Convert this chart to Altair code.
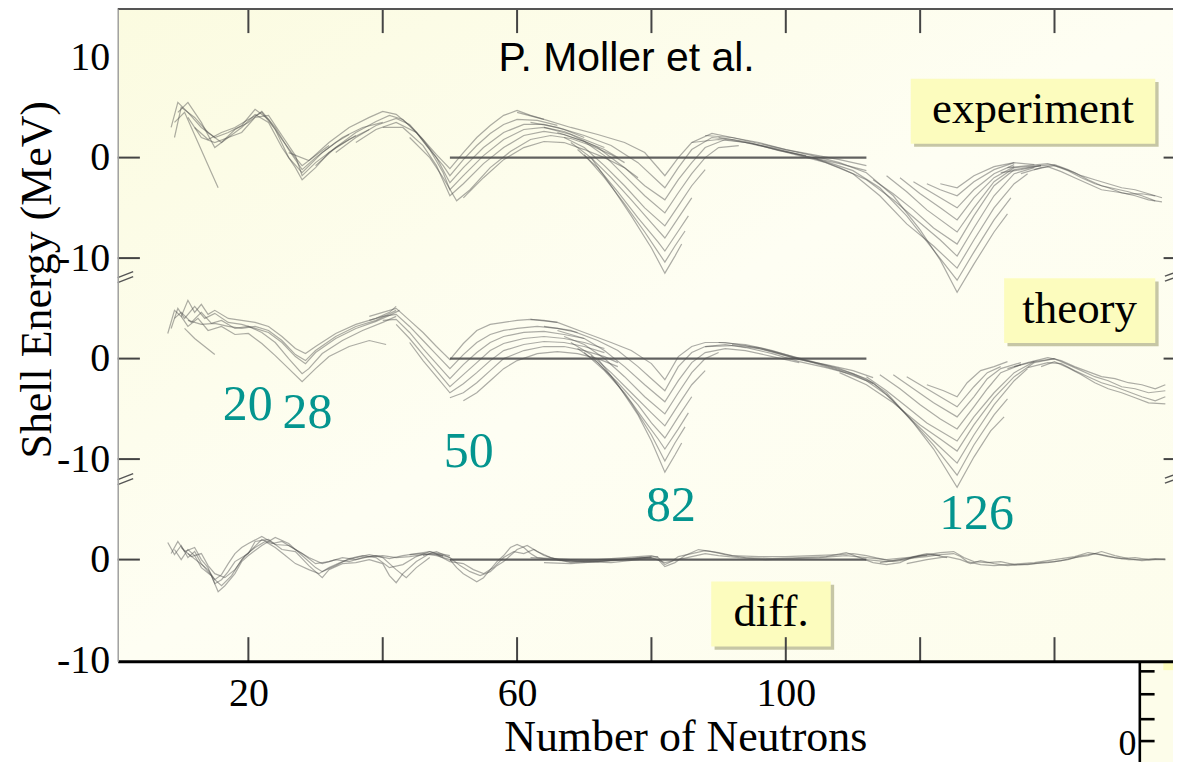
import altair as alt
import pandas as pd

# ---------------- axis / layout values ----------------
XMIN, XMAX = 0.55, 157.64
YMIN, YMAX = -10.12, 54.79
X_TICKS = [20, 60, 100]
X_MINOR = [20, 40, 60, 80, 100, 120, 140]
Y_TICK_VALUES = [-10, 0, 10, 20, 30, 40, 50]
Y_TICK_LABELS = ["-10", "0", "-10", "0", "-10", "0", "10"]
LEFT_TICKS = [40, 30, 20, 10, 0]
RIGHT_TICKS = [40, 30, 20, 10]
BREAKS = [28.1, 8.0]
OFFSETS = {"exp": 40, "thy": 20, "diff": 0}

# ---------------- experiment (shell energy, MeV) ----------------
EXP_CURVES = [
    [(8.5,3.0),(9.5,5.5),(11,4.5),(13,3.0),(15,2.0),(17,2.5),(19,3.2),(21,4.8),(23,3.8),(25,1.8),(27,0.0),(28,-0.8),(30,0.2),(32,1.2)],
    [(9,2.0),(10,5.0),(12,4.0),(14,2.5),(16,1.5),(18,2.8),(20,3.5),(22,4.6),(24,3.0),(26,0.8),(28,-1.2),(30,0.0),(33,1.5),(35,2.3)],
    [(9.5,4.5),(11,5.5),(13,3.5),(15,1.0),(17,2.0),(19,2.5),(21,4.0),(23,4.2),(25,2.2),(27,0.2),(28,-1.8),(30,-0.5),(33,1.0),(36,2.2)],
    [(9,3.5),(10.5,4.5),(12.5,1.5),(14.5,-1.5),(15.5,-3.0)],
    [(11,4.0),(13,2.0),(15,1.5),(17,2.0),(19,3.0),(21,4.3),(23,3.5),(25,1.0),(27,-1.0),(28,-2.2),(30,-1.0),(32,0.5),(35,1.8),(38,2.8)],
    [(12,3.0),(14,1.8),(16,2.5),(18,3.0),(20,3.8),(22,4.5),(24,2.8),(26,0.0),(28,-1.5),(31,0.5),(34,2.0),(37,3.0),(40,3.5)],
    [(26,0.5),(29,-0.3),(32,1.5),(35,3.0),(38,4.0),(40,4.6),(42,4.3),(44,3.2),(46,1.8),(48,0.3),(50,-1.1),(52,0.5),(54,2.0),(56,3.2),(58,4.2),(60,4.7),(62,4.2),(64,3.8)],
    [(30,-0.8),(33,1.0),(36,2.5),(39,3.6),(41,4.2),(43,3.8),(45,2.5),(47,0.8),(49,-0.8),(50,-1.8),(52,-0.2),(54,1.2),(56,2.4),(58,3.3),(60,3.8),(63,3.7),(66,3.2)],
    [(33,0.5),(36,2.0),(39,3.2),(42,3.9),(44,3.3),(46,1.8),(48,0.0),(50,-2.5),(52,-1.0),(55,1.0),(58,2.5),(61,3.3),(64,3.3),(67,2.8),(70,2.0)],
    [(36,1.5),(39,2.8),(42,3.5),(45,2.5),(47,0.8),(49,-1.5),(50,-3.2),(52,-1.8),(55,0.2),(58,1.8),(61,2.8),(64,3.0),(67,2.6),(70,1.8),(73,1.0)],
    [(40,3.0),(43,3.0),(46,1.2),(48,-0.8),(50,-3.8),(52,-2.6),(55,-0.6),(58,1.0),(61,2.2),(64,2.6),(67,2.3),(70,1.6),(73,0.8),(75,0.0)],
    [(44,2.0),(47,0.0),(49,-2.0),(51,-4.3),(53,-3.2),(56,-1.0),(59,0.6),(62,1.8),(65,2.2),(68,1.9),(71,1.2),(74,0.3),(76,-0.5)],
    [(52,-4.0),(55,-2.0),(58,-0.2),(61,1.0),(64,1.6),(67,1.5),(70,0.8),(73,0.0),(76,-1.0),(78,-2.0)],
    [(60,4.5),(64,3.8),(68,3.0),(72,2.3),(76,1.5),(79,0.5),(82,-1.8),(84,0.0),(86,1.5),(89,2.4),(92,2.0),(96,1.5),(100,0.8),(104,0.3),(108,-0.2),(112,-0.8)],
    [(62,3.5),(66,3.0),(70,2.2),(74,1.2),(78,-0.5),(82,-3.0),(84,-1.0),(86,0.8),(89,2.0),(92,1.8),(96,1.2),(100,0.6),(104,0.0),(108,-0.6),(112,-1.3)],
    [(64,3.0),(68,2.3),(72,1.0),(76,-1.0),(79,-2.8),(82,-4.2),(84,-2.2),(86,-0.5),(88,1.0),(91,1.8),(95,1.4),(99,0.7),(103,0.2)],
    [(66,2.5),(70,1.6),(73,0.2),(76,-1.8),(79,-3.8),(82,-5.5),(84,-3.5),(86,-1.6),(88,0.0),(90,1.0),(93,1.2)],
    [(67,2.0),(70,1.0),(73,-0.8),(76,-2.8),(79,-5.0),(82,-6.8),(84,-4.8),(86,-2.8),(88,-1.2)],
    [(68,1.5),(71,0.0),(74,-2.0),(77,-4.2),(80,-6.5),(82,-8.0),(84,-6.0),(86,-4.0)],
    [(69,0.8),(72,-1.0),(75,-3.4),(78,-6.0),(81,-8.4),(82,-9.3),(84,-7.3),(85.5,-5.8)],
    [(70,0.3),(73,-2.0),(76,-4.6),(79,-7.4),(81,-9.4),(82,-10.4),(83.5,-8.8),(85,-7.3)],
    [(71,0.0),(74,-2.8),(77,-5.8),(80,-9.0),(82,-11.5),(83.5,-9.8),(84.5,-8.6)],
    [(88,2.2),(92,2.0),(96,1.4),(100,0.8),(104,0.2),(108,-0.5),(112,-1.5),(116,-3.8),(120,-7.2),(123,-10.2),(125.5,-13.4),(128,-10.6),(131,-7.4),(133,-5.6)],
    [(86,1.5),(90,1.8),(94,1.5),(98,1.0),(102,0.3),(106,-0.4),(110,-1.3),(114,-3.0),(118,-5.8),(122,-9.2),(125.5,-12.2),(128,-9.4),(131,-6.2),(133.5,-4.0)],
    [(90,2.0),(94,1.6),(98,0.9),(102,0.2),(106,-0.5),(110,-1.6),(114,-3.8),(118,-6.6),(122,-8.8),(125.5,-11.0),(128,-8.2),(131,-5.0),(134,-2.6),(136,-1.6)],
    [(104,0.0),(108,-1.0),(112,-2.2),(116,-4.2),(120,-6.5),(123,-8.2),(125.5,-9.8),(128,-7.0),(131,-3.8),(134,-1.6),(137,-1.0)],
    [(113,-2.2),(116,-3.6),(119,-5.2),(122,-7.0),(125.5,-8.6),(128,-5.8),(131,-2.8),(134,-1.2),(138,-0.8)],
    [(115,-1.8),(118,-3.4),(121,-5.2),(125.5,-7.4),(128,-5.0),(131,-2.4),(134,-1.0),(138,-0.8)],
    [(117,-2.0),(120,-3.6),(123,-5.0),(125.5,-6.2),(128,-4.0),(131,-2.0),(134,-0.9)],
    [(119,-2.4),(122,-3.6),(125.5,-5.0),(128,-3.2),(131,-1.6),(134,-0.7)],
    [(121,-2.6),(123,-3.2),(125.5,-3.8),(128,-2.4),(131,-1.2),(134,-0.5)],
    [(123,-2.6),(125.5,-3.0),(128,-1.8),(131,-0.9),(134,-0.5),(137,-0.7)],
    [(132,-1.5),(135,-1.2),(138,-0.8),(140,-0.7),(142,-1.2),(144,-1.8),(146,-2.2),(148,-2.6),(150,-3.0),(152,-3.2),(154,-3.6),(156,-4.0)],
    [(133,-1.0),(136,-0.8),(139,-0.6),(141,-1.0),(143,-1.5),(145,-2.2),(147,-2.8),(149,-3.1),(151,-3.4),(153,-3.8),(155,-4.3)],
    [(135,-1.6),(138,-1.0),(140,-0.8),(142,-1.3),(144,-2.0),(146,-2.6),(148,-3.0),(150,-3.5),(152,-3.8),(154,-4.2),(156,-4.4)],
    [(137,-1.2),(139,-0.9),(141,-1.4),(143,-2.0),(145,-2.6),(147,-3.2),(149,-3.4),(151,-3.6),(153,-3.6),(155,-3.8)],
]

# ---------------- theory ----------------
THY_CURVES = [
    [(8,2.5),(9,4.8),(10,4.2),(11,5.8),(12,4.6),(13,5.4),(14,4.4),(15,4.8),(17,4.0),(19,3.8),(21,3.6),(23,3.2),(25,2.2),(27,1.0),(28.5,0.5),(30,1.2),(33,2.5),(36,3.4),(39,4.0),(41,4.6),(42,5.2)],
    [(8.5,3.0),(9.5,5.0),(10.5,4.0),(12,5.2),(13.5,4.0),(15,4.5),(17,3.6),(19,3.4),(21,3.0),(23,2.6),(25,1.6),(27,0.2),(28.5,-0.5),(30,0.6),(33,2.0),(36,3.0),(39,3.7),(41,4.3),(42.5,4.8)],
    [(9,4.0),(10,4.6),(11.5,3.6),(13,4.6),(14.5,3.5),(16,3.8),(18,3.0),(20,3.2),(22,2.6),(24,1.6),(26,0.0),(28,-1.5),(29,-1.0),(31,0.5),(34,1.8),(37,2.8),(40,3.6),(42,4.2)],
    [(10,4.2),(11,3.2),(12.5,4.0),(14,2.8),(16,3.2),(18,2.4),(20,2.5),(22,1.5),(24,0.3),(26,-1.0),(28,-2.3),(30,-1.0),(32,0.2),(35,1.2),(38,1.8),(40.5,1.4)],
    [(10.5,3.0),(12,2.0),(13.5,1.2),(15,0.4)],
    [(11,3.8),(13,3.4),(15,3.5),(17,3.2),(19,3.0),(21,3.2),(23,2.8),(25,1.8),(27,0.4),(28.5,-0.2),(30,0.8),(33,2.2),(36,3.2),(39,3.8),(42,4.8)],
    [(38,4.2),(40,4.6),(42,5.0),(44,3.8),(46,2.6),(48,1.2),(50,-0.1),(52,1.5),(54,2.8),(56,3.4),(58,3.6),(60,3.8),(62,3.9),(64,3.8),(66,3.6)],
    [(38,3.8),(40,4.2),(42,4.4),(44,3.2),(46,1.8),(48,0.4),(50,-1.0),(52,0.4),(54,1.6),(56,2.4),(58,2.8),(60,3.0),(63,3.2),(66,3.0),(69,2.6)],
    [(40,3.8),(42,3.9),(44,2.6),(46,1.0),(48,-0.5),(50,-2.0),(52,-0.6),(54,0.6),(56,1.6),(58,2.2),(61,2.6),(64,2.7),(67,2.4),(70,2.0)],
    [(42,3.4),(44,2.0),(46,0.4),(48,-1.2),(50,-2.8),(52,-1.6),(54,-0.4),(56,0.8),(58,1.5),(61,2.0),(64,2.2),(67,2.0),(70,1.6),(73,1.0)],
    [(44,1.6),(46,-0.2),(48,-1.8),(50,-3.4),(52,-2.5),(54,-1.4),(56,-0.2),(58,0.8),(61,1.4),(64,1.7),(67,1.6),(70,1.2),(73,0.6)],
    [(50,-3.9),(52,-3.4),(54,-2.4),(56,-1.2),(58,0.0),(61,0.8),(64,1.2),(67,1.2),(70,0.8),(73,0.2),(75,-0.4)],
    [(52,-4.2),(54,-3.4),(56,-2.2),(58,-1.0),(60,-0.2),(63,0.5),(66,0.7),(69,0.5),(72,0.0),(75,-0.8)],
    [(62,3.9),(66,3.6),(70,2.6),(74,1.6),(77,0.8),(80,-0.5),(82,-2.1),(84,0.2),(86,1.2),(88,1.6),(91,1.6),(94,1.3),(98,0.7),(102,-0.1),(106,-0.6),(110,-1.2),(113,-1.9)],
    [(64,3.2),(68,2.8),(72,1.8),(75,0.8),(78,-0.8),(80,-2.0),(82,-3.2),(84,-0.8),(86,0.6),(88,1.2),(91,1.4),(94,1.1),(98,0.5),(102,-0.3),(106,-0.9),(110,-1.6),(113,-2.5)],
    [(66,2.8),(70,2.0),(73,0.8),(76,-0.8),(79,-2.6),(82,-4.3),(84,-2.2),(86,-0.4),(88,0.6),(91,1.0),(94,0.8),(98,0.2),(102,-0.4)],
    [(67,2.2),(70,1.4),(73,0.0),(76,-1.8),(79,-3.8),(82,-5.5),(84,-3.4),(86,-1.4),(88,0.0),(90,0.6)],
    [(68,1.6),(71,0.4),(74,-1.4),(77,-3.4),(80,-5.4),(82,-6.7),(84,-4.6),(86,-2.6),(88,-1.2)],
    [(69,1.0),(72,-0.4),(75,-2.4),(78,-4.6),(80,-6.4),(82,-7.9),(84,-5.8),(86,-3.8)],
    [(70,0.6),(73,-1.2),(76,-3.4),(79,-6.2),(81,-8.0),(82,-9.0),(84,-7.0),(85.5,-5.4)],
    [(71,0.3),(74,-1.8),(77,-4.4),(80,-7.6),(82,-10.2),(83.5,-8.4),(85,-6.8)],
    [(72,0.0),(75,-2.6),(78,-5.6),(80,-8.2),(82,-11.3),(83.5,-9.6),(84.5,-8.4)],
    [(90,1.6),(94,1.4),(98,0.8),(102,0.0),(106,-0.7),(110,-1.5),(113,-2.4),(116,-4.2),(119,-6.4),(122,-9.0),(125.5,-12.8),(128,-9.8),(130.5,-7.2),(132.5,-5.8)],
    [(88,1.2),(92,1.3),(96,1.0),(100,0.3),(104,-0.4),(108,-1.2),(112,-2.2),(115,-3.6),(118,-5.6),(122,-8.6),(125.5,-11.6),(128,-8.6),(131,-5.6),(133,-4.0)],
    [(92,1.4),(96,1.1),(100,0.4),(104,-0.3),(108,-1.0),(112,-2.0),(115,-3.4),(118,-5.6),(122,-8.2),(125.5,-10.4),(128,-7.6),(131,-4.6),(134,-2.2),(136,-1.0)],
    [(108,-1.4),(112,-2.6),(116,-4.4),(120,-6.6),(123,-8.0),(125.5,-9.2),(128,-6.6),(131,-3.9),(134,-1.8),(137,-0.4),(140,0.0)],
    [(112,-1.8),(115,-3.2),(118,-4.8),(121,-6.4),(125.5,-8.2),(128,-5.8),(131,-3.4),(134,-1.4),(137,-0.3)],
    [(114,-1.6),(117,-3.0),(120,-4.6),(123,-6.0),(125.5,-7.0),(128,-4.8),(130,-3.0),(132,-1.4),(135,-0.6)],
    [(116,-1.6),(119,-3.0),(122,-4.4),(125.5,-5.8),(128,-3.8),(130,-2.0),(132,-1.0),(135,-0.4)],
    [(118,-1.8),(121,-3.0),(123.5,-4.0),(125.5,-4.8),(128,-2.8),(130,-1.4),(132,-0.8)],
    [(121,-2.6),(123.5,-3.2),(125.5,-3.8),(127,-2.4),(129,-1.2),(131,-0.8),(133,-0.3)],
    [(133,-1.0),(136,-0.4),(139,0.1),(141,-0.2),(143,-0.8),(145,-1.3),(147,-1.8),(149,-2.0),(151,-2.4),(153,-2.6),(155,-3.0),(156.5,-2.6)],
    [(134,-0.8),(137,-0.3),(140,0.0),(142,-0.6),(144,-1.2),(146,-1.8),(148,-2.2),(150,-2.8),(152,-3.0),(154,-3.4),(156.5,-3.2)],
    [(136,-0.9),(139,-0.4),(141,-0.5),(143,-1.2),(145,-1.8),(147,-2.4),(149,-2.8),(151,-3.3),(153,-3.8),(155,-4.2),(156.5,-3.8)],
    [(138,-0.8),(140,-0.3),(142,-0.9),(144,-1.6),(146,-2.4),(148,-3.0),(150,-3.4),(152,-3.9),(154,-4.4),(156.5,-4.5)],
]

# ---------------- difference ----------------
DIFF_CURVES = [
    [(8,1.7),(9,0.5),(10,1.4),(11,0.2),(12,0.8),(13,-0.4),(14,-1.2),(15,-2.0),(16,-1.5),(17,-0.4),(18,0.6),(19,1.2),(20,1.6),(22,2.3),(24,1.5),(26,1.4),(28,0.6),(30,-0.4),(32,-0.2),(34,0.2),(36,0.0),(38,0.3),(40,0.4),(42,0.2),(44,0.3),(46,0.5),(48,0.6),(50,0.2)],
    [(8.5,0.6),(9.5,1.8),(10.5,0.8),(12,1.2),(13,0.0),(14,-0.8),(15,-2.4),(16,-2.0),(17,-1.2),(18,-0.2),(20,0.6),(21,1.8),(23,2.0),(25,1.0),(27,0.8),(29,-0.6),(31,-1.8),(32,-1.0),(34,-0.4),(36,-0.3),(38,0.0),(40,-0.4),(41,-1.6),(42,-2.3),(43,-1.4),(45,-0.2),(47,0.6),(49,0.4)],
    [(9,1.0),(10,0.0),(11,1.0),(12,0.4),(13,-0.8),(14.5,-1.6),(15.5,-3.2),(16.5,-2.6),(18,-1.4),(19,-0.2),(20,0.4),(22,1.4),(24,2.2),(26,1.6),(28,0.4),(30,-0.8),(31,-1.2),(33,-0.6),(35,0.1),(37,0.4),(39,0.2),(41,-0.8),(43,-0.5),(45,0.3),(47,0.8),(50,0.4)],
    [(10,1.2),(11.5,0.3),(13,0.6),(14,-0.6),(15,-1.4),(16.5,-1.8),(18,-1.0),(19.5,0.4),(21,1.2),(22.5,1.8),(24,1.2),(25.5,0.4),(27,-0.4),(29,-1.0),(30.5,-1.4),(32,-0.8),(34,-0.2),(36,0.2),(38,0.5),(40,0.2),(42,-1.0),(43.5,-1.8),(45,-0.8),(47,0.2)],
    [(11,0.6),(12.5,-0.2),(14,-1.0),(15,-2.0),(16,-2.6),(17.5,-1.6),(19,0.0),(20.5,1.0),(22,2.0),(23.5,1.6),(25,1.8),(27,1.0),(29,0.2),(31,-0.4),(33,0.0),(35,-0.2),(37,0.2),(39,0.4),(41,0.1),(43,0.4),(45,0.6),(47,0.8),(49,0.3)],
    [(44,0.5),(46,0.6),(48,0.4),(50,0.0),(51,-0.8),(52,-1.4),(53,-1.8),(54,-2.2),(55,-1.8),(56,-1.0),(57,-0.2),(58,0.4),(59,1.2),(60,1.5),(61,1.2),(62,0.6),(63,0.2),(65,0.0),(68,-0.2),(71,-0.1),(74,0.0),(77,0.1),(80,0.2)],
    [(46,0.4),(48,0.8),(50,0.2),(51.5,-0.6),(53,-1.2),(54.5,-1.6),(56,-1.2),(57,-0.6),(58,-0.2),(59,0.4),(60,1.0),(61.5,1.4),(63,0.8),(65,0.2),(68,-0.3),(71,-0.2),(74,-0.1),(77,0.0),(80,0.3)],
    [(48,0.5),(50,-0.2),(52,-0.4),(53.5,-1.0),(55,-1.4),(56.5,-0.8),(58,0.2),(59.5,0.8),(61,0.6),(62.5,1.0),(64,0.4),(66,0.0),(69,-0.2),(72,-0.2),(75,0.0),(78,0.2),(81,0.3)],
    [(62,0.2),(66,0.1),(70,-0.1),(74,0.1),(78,0.3),(80,0.4),(81,0.2),(82,-0.5),(83,-0.2),(84,0.3),(86,0.6),(88,0.9),(90,0.7),(92,0.4),(96,0.3),(100,0.3),(104,0.4),(108,0.5),(110,0.6),(112,0.4),(114,0.1),(116,-0.2),(118,0.0),(120,0.4),(122,0.5),(124,0.2)],
    [(64,-0.3),(68,-0.4),(72,-0.2),(76,0.0),(79,0.2),(81,0.0),(82,-0.7),(83.5,-0.3),(85,0.4),(87,1.0),(89,0.8),(91,0.5),(94,0.2),(98,0.1),(102,0.2),(106,0.3),(109,0.7),(111,0.2),(113,-0.3),(115,-0.5),(117,-0.3),(119,0.3),(121,0.6),(123,0.4)],
    [(66,0.0),(70,-0.2),(74,-0.3),(78,0.0),(80,0.2),(82,-0.3),(84,0.0),(86,0.3),(88,0.6),(90,0.4),(93,0.2),(97,0.0),(101,0.1),(105,0.2),(109,0.4),(112,0.2),(115,0.0),(118,0.2),(121,0.4)],
    [(112,0.0),(115,-0.2),(118,0.1),(121,0.3),(123,0.5),(125,0.6),(126,0.3),(127,-0.2),(129,-0.5),(131,-0.6),(133,-0.5),(135,-0.4),(137,-0.3),(139,-0.1),(141,0.1),(143,0.3),(145,0.7),(147,0.5),(149,0.2),(151,0.0),(153,0.0),(155,0.1),(156.5,0.0)],
    [(114,-0.3),(117,0.0),(120,0.4),(123,0.7),(125,0.8),(126.5,0.2),(128,-0.2),(130,-0.3),(132,-0.2),(134,-0.5),(136,-0.5),(138,-0.3),(140,-0.2),(142,0.0),(144,0.4),(146,0.6),(148,0.3),(150,0.1),(152,0.2),(154,0.0),(156.5,0.1)],
    [(118,-0.4),(121,0.0),(124,0.3),(126,0.0),(127.5,-0.4),(129,-0.1),(131,-0.4),(133,-0.6),(135,-0.5),(137,-0.4),(139,-0.3),(141,-0.1),(143,0.2),(145,0.4),(147,0.8),(149,0.4),(151,0.1),(153,-0.1),(155,0.0),(156.5,0.0)],
]

ZERO_LINE_N = [50, 112]

MAGIC_LABELS = ["20", "28", "50", "82", "126"]
MAGIC_N = [19.9, 28.8, 52.8, 82.9, 128.4]
MAGIC_Y = [15.4, 14.6, 10.7, 5.3, 4.5]

BOX_TEXT = ["experiment", "theory", "diff."]
BOX_N1 = [118.6, 132.5, 88.9]
BOX_N2 = [155.0, 155.0, 106.7]
BOX_Y1 = [47.84, 27.99, -2.18]
BOX_Y2 = [41.39, 21.54, -8.64]

CREDIT = "P. Moller et al."
CREDIT_N, CREDIT_Y = 76.3, 49.8

INSET_N = 152.7
INSET_TICKS = [-11.12, -13.40, -15.88, -18.06, -20.55]

# ---------------- build tables ----------------
rows = []
for key, curves in (("exp", EXP_CURVES), ("thy", THY_CURVES), ("diff", DIFF_CURVES)):
    for i, c in enumerate(curves):
        for n, e in c:
            rows.append({"N": n, "y": e + OFFSETS[key], "curve": f"{key}{i}"})
curve_df = pd.DataFrame(rows)

zero_df = pd.DataFrame([{"N": n, "y": off, "curve": k} for k, off in OFFSETS.items() for n in ZERO_LINE_N])

tick_rows = []
for n in X_MINOR:
    tick_rows.append({"N": n, "N2": n, "y": YMAX, "y2": YMAX - 2.4})
    tick_rows.append({"N": n, "N2": n, "y": YMIN, "y2": YMIN + 2.4})
for v in LEFT_TICKS:
    tick_rows.append({"N": XMIN, "N2": XMIN + 3.3, "y": v, "y2": v})
for v in RIGHT_TICKS:
    tick_rows.append({"N": XMAX - 1.4, "N2": XMAX, "y": v, "y2": v})
tick_df = pd.DataFrame(tick_rows)

brk_rows = []
for b in BREAKS:
    for d in (-0.25, 0.25):
        brk_rows.append({"N": XMIN, "N2": XMIN + 2.3, "y": b + d - 0.3, "y2": b + d + 0.3})
        brk_rows.append({"N": XMAX - 1.2, "N2": XMAX, "y": b + d - 0.15, "y2": b + d + 0.15})
brk_df = pd.DataFrame(brk_rows)

box_df = pd.DataFrame({"N": BOX_N1, "N2": BOX_N2, "y": BOX_Y1, "y2": BOX_Y2, "label": BOX_TEXT})
box_df["Nc"] = (box_df["N"] + box_df["N2"]) / 2
box_df["yc"] = (box_df["y"] + box_df["y2"]) / 2
shadow_df = box_df.copy()
shadow_df["N"] += 0.5
shadow_df["N2"] += 0.5
shadow_df["y"] -= 0.32
shadow_df["y2"] -= 0.32

magic_df = pd.DataFrame({"N": MAGIC_N, "y": MAGIC_Y, "label": MAGIC_LABELS})
credit_df = pd.DataFrame({"N": [CREDIT_N], "y": [CREDIT_Y], "label": [CREDIT]})

inset_rect = pd.DataFrame({"N": [INSET_N], "N2": [XMAX], "y": [YMIN], "y2": [-21.5]})
inset_rules = pd.DataFrame(
    [{"N": INSET_N, "N2": INSET_N, "y": YMIN, "y2": -21.5}]
    + [{"N": INSET_N, "N2": INSET_N + 2.2, "y": t, "y2": t} for t in INSET_TICKS]
)
inset_box = pd.DataFrame({"N": [156.2], "N2": [XMAX], "y": [YMIN - 0.1], "y2": [-11.0]})
inset_text = pd.DataFrame({"N": [152.2], "y": [-18.4], "label": ["0"]})

# ---------------- encodings ----------------
SERIF = "Liberation Serif"
XS = alt.Scale(domain=[XMIN, XMAX], nice=False, zero=False)
YS = alt.Scale(domain=[YMIN, YMAX], nice=False, zero=False)

label_expr = " : ".join(
    f"datum.value == {v} ? '{l}'" for v, l in zip(Y_TICK_VALUES, Y_TICK_LABELS)
) + " : ''"

XAX = alt.Axis(
    values=X_TICKS, ticks=False, grid=False, domainColor="#000000", domainWidth=3,
    labelFont=SERIF, labelFontSize=40, labelColor="#000000", labelPadding=12,
    title="Number of Neutrons", titleFont=SERIF, titleFontSize=44, titleFontWeight="normal",
    titleColor="#000000", titleX=569, titleY=89, titleBaseline="alphabetic",
    titleAnchor="middle", zindex=1,
)
YAX = alt.Axis(
    values=Y_TICK_VALUES, labelExpr=label_expr, ticks=False, grid=False,
    domainColor="#a0a0a0", domainWidth=1.5,
    labelFont=SERIF, labelFontSize=40, labelColor="#000000", labelPadding=8,
    title="Shell Energy (MeV)", titleFont=SERIF, titleFontSize=44, titleFontWeight="normal",
    titleColor="#000000", titleX=-67, titleY=271, titleBaseline="alphabetic",
    titleAngle=-90, zindex=1,
)


def X(f="N"):
    return alt.X(f"{f}:Q", scale=XS, axis=XAX)


def Y(f="y"):
    return alt.Y(f"{f}:Q", scale=YS, axis=YAX)


W, H = 1058, 654

bg = alt.Chart(pd.DataFrame({"a": [0]})).mark_rect(
    fill=alt.LinearGradient(
        gradient="linear",
        stops=[
            alt.GradientStop(color="#fbfbe0", offset=0),
            alt.GradientStop(color="#fefef3", offset=0.5),
            alt.GradientStop(color="#fdfdec", offset=1),
        ],
        x1=0, y1=0, x2=1, y2=1,
    )
).encode(x=alt.value(0), x2=alt.value(W), y=alt.value(0), y2=alt.value(H))

lines = alt.Chart(curve_df).mark_line(
    color="#4a4a4a", opacity=0.45, strokeWidth=1.2
).encode(x=X(), y=Y(), detail="curve:N")

zero = alt.Chart(zero_df).mark_line(
    color="#505050", opacity=0.9, strokeWidth=2.2
).encode(x=X(), y=Y(), detail="curve:N")

shadow = alt.Chart(shadow_df).mark_rect(fill="#bcbc98", opacity=0.85).encode(
    x=X(), x2="N2:Q", y=Y(), y2="y2:Q")
boxes = alt.Chart(box_df).mark_rect(fill="#fcfcbe").encode(
    x=X(), x2="N2:Q", y=Y(), y2="y2:Q")
box_text = alt.Chart(box_df).mark_text(
    font=SERIF, fontSize=45, color="#000000", baseline="middle", align="center", dy=-2
).encode(x=X("Nc"), y=Y("yc"), text="label:N")

magic = alt.Chart(magic_df).mark_text(
    font=SERIF, fontSize=50, color="#04958f", baseline="middle", align="center"
).encode(x=X(), y=Y(), text="label:N")

credit = alt.Chart(credit_df).mark_text(
    font="Liberation Sans", fontSize=41, color="#000000", baseline="middle", align="center"
).encode(x=X(), y=Y(), text="label:N")

ticks = alt.Chart(tick_df).mark_rule(color="#444444", strokeWidth=2).encode(
    x=X(), x2="N2:Q", y=Y(), y2="y2:Q")
breaks = alt.Chart(brk_df).mark_rule(color="#555555", strokeWidth=1.4).encode(
    x=X(), x2="N2:Q", y=Y(), y2="y2:Q")

frame_top = alt.Chart(pd.DataFrame({"a": [0]})).mark_rule(
    color="#555555", strokeWidth=2
).encode(x=alt.value(0), x2=alt.value(W), y=alt.value(0))

inset_bg = alt.Chart(inset_rect).mark_rect(fill="#fdfdea").encode(
    x=X(), x2="N2:Q", y=Y(), y2="y2:Q")
inset_yb = alt.Chart(inset_box).mark_rect(fill="#fbfbbb").encode(
    x=X(), x2="N2:Q", y=Y(), y2="y2:Q")
inset_ln = alt.Chart(inset_rules).mark_rule(color="#000000", strokeWidth=2.6).encode(
    x=X(), x2="N2:Q", y=Y(), y2="y2:Q")
inset_tx = alt.Chart(inset_text).mark_text(
    font=SERIF, fontSize=36, color="#000000", baseline="middle", align="right"
).encode(x=X(), y=Y(), text="label:N")

chart = alt.layer(
    bg, lines, zero, shadow, boxes, box_text, magic, credit, ticks, breaks,
    frame_top, inset_bg, inset_yb, inset_ln, inset_tx,
).properties(
    width=W, height=H,
    padding={"left": 110, "top": 0, "right": 0, "bottom": 100},
    autosize=alt.AutoSizeParams(type="none"),
    background="#ffffff",
).configure_view(stroke=None)

chart.save("out.html", embed_options={"renderer": "svg", "actions": False})
